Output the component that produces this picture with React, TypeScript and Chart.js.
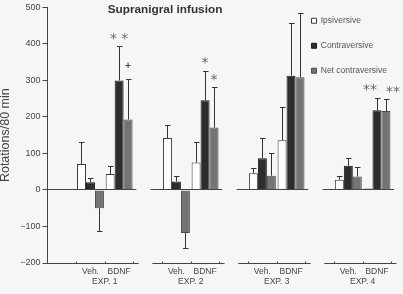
import React, { useEffect, useRef } from 'react';
import { Chart, registerables } from 'chart.js';

Chart.register(...registerables);

// ---------- data ----------
const EXPERIMENTS = ['EXP. 1', 'EXP. 2', 'EXP. 3', 'EXP. 4'];
const CONDITIONS = ['Veh.', 'BDNF'];
const SERIES = ['Ipsiversive', 'Contraversive', 'Net contraversive'];

// order: EXP1 Veh, EXP1 BDNF, EXP2 Veh, EXP2 BDNF, EXP3 Veh, EXP3 BDNF, EXP4 Veh, EXP4 BDNF
const IPSI = [71, 44, 142, 75, 46, 136, 28, 4];
const IPSI_ERR = [61, 22, 36, 57, 14, 91, 9, 0];
const CONTRA = [21, 300, 23, 246, 87, 313, 66, 218];
const CONTRA_ERR = [12, 93, 16, 81, 55, 143, 21, 34];
const NET = [-50, 193, -118, 171, 39, 309, 37, 216];
const NET_ERR = [63, 111, 40, 110, 62, 175, 25, 32];

const Y_MIN = -200;
const Y_MAX = 500;
const Y_STEP = 100;

const TITLE = 'Supranigral infusion';
const Y_TITLE = 'Rotations/80 min';

// significance marks
const MARK_EXP = [0, 0, 1, 1, 3, 3];
const MARK_COND = [1, 1, 1, 1, 1, 1];
const MARK_SERIES = [1, 2, 1, 2, 1, 2];
const MARK_TEXT = ['* *', '+', '*', '*', '**', '**'];

// ---------- helpers ----------
const FONT = '"Liberation Sans", Arial, Helvetica, sans-serif';
const TEXT = '#444444';
const AXIS = '#444444';

const catIndex = (g: number, c: number) => 1 + 3 * g + c;

const CATS: string[] = [''];
EXPERIMENTS.forEach((_, g) => {
  CONDITIONS.forEach((c) => CATS.push(c));
  if (g < EXPERIMENTS.length - 1) CATS.push('');
});

const toCats = (arr: number[]) => {
  const out: (number | null)[] = CATS.map(() => null);
  EXPERIMENTS.forEach((_, g) =>
    CONDITIONS.forEach((__, c) => {
      out[catIndex(g, c)] = arr[g * CONDITIONS.length + c];
    })
  );
  return out;
};

const VALUES = [IPSI, CONTRA, NET];
const ERRORS = [IPSI_ERR, CONTRA_ERR, NET_ERR];
const EXP_POS = EXPERIMENTS.map((_, g) => (catIndex(g, 0) + catIndex(g, 1)) / 2);

// ---------- plugins ----------
const legendPlacer = {
  id: 'legendPlacer',
  afterLayout(chart: any) {
    const lg = chart.legend;
    if (!lg) return;
    const L = 295;
    const T = 0;
    lg.left = L;
    lg.right = L + lg.width;
    lg.top = T;
    lg.bottom = T + lg.height;
  },
};

const groupAxes = {
  id: 'groupAxes',
  afterDatasetsDraw(chart: any) {
    const { ctx, chartArea, scales } = chart;
    const x = scales.x;
    const y = scales.y;
    const y0 = Math.floor(y.getPixelForValue(0)) + 0.5;
    const yb = Math.floor(chartArea.bottom) + 0.5;
    ctx.save();
    ctx.strokeStyle = AXIS;
    ctx.lineWidth = 1;
    EXPERIMENTS.forEach((_, g) => {
      const veh = catIndex(g, 0);
      const bdnf = catIndex(g, 1);
      const zs = g === 0 ? chartArea.left : x.getPixelForValue(veh - 0.9);
      const ze = x.getPixelForValue(bdnf + 0.6);
      ctx.beginPath();
      ctx.moveTo(zs, y0);
      ctx.lineTo(ze, y0);
      ctx.stroke();
      const bs = g === 0 ? chartArea.left : x.getPixelForValue(veh - 0.84);
      const be = x.getPixelForValue(bdnf + 0.68);
      ctx.beginPath();
      ctx.moveTo(bs, yb);
      ctx.lineTo(be, yb);
      ctx.stroke();
      [veh - 0.5, veh + 0.5, bdnf + 0.5].forEach((v) => {
        const px = Math.round(x.getPixelForValue(v)) + 0.5;
        ctx.beginPath();
        ctx.moveTo(px, yb);
        ctx.lineTo(px, yb - 2);
        ctx.stroke();
      });
    });
    ctx.restore();
  },
};

const errorBars = {
  id: 'errorBars',
  afterDatasetsDraw(chart: any) {
    const { ctx, scales } = chart;
    const y = scales.y;
    ctx.save();
    ctx.strokeStyle = '#333333';
    ctx.lineWidth = 1;
    ERRORS.forEach((errs, s) => {
      const meta = chart.getDatasetMeta(s);
      const vals = toCats(VALUES[s]);
      const e = toCats(errs);
      vals.forEach((v, i) => {
        const err = e[i];
        if (v === null || err === null || err <= 0) return;
        const bar = meta.data[i];
        if (!bar) return;
        const px = Math.round(bar.x) + 0.5;
        const dir = v < 0 ? -1 : 1;
        const yv = y.getPixelForValue(v);
        const ye = Math.round(y.getPixelForValue(v + dir * err)) + 0.5;
        ctx.beginPath();
        ctx.moveTo(px, yv);
        ctx.lineTo(px, ye);
        ctx.moveTo(px - 2.5, ye);
        ctx.lineTo(px + 3, ye);
        ctx.stroke();
      });
    });
    ctx.restore();
  },
};

const marks = {
  id: 'marks',
  afterDatasetsDraw(chart: any) {
    const { ctx, scales } = chart;
    const y = scales.y;
    ctx.save();
    MARK_TEXT.forEach((text, k) => {
      const g = MARK_EXP[k];
      const c = MARK_COND[k];
      const s = MARK_SERIES[k];
      const idx = catIndex(g, c);
      const bar = chart.getDatasetMeta(s).data[idx];
      if (!bar) return;
      const v = VALUES[s][g * CONDITIONS.length + c];
      const err = ERRORS[s][g * CONDITIONS.length + c];
      const top = y.getPixelForValue(v + err);
      const isStar = text.indexOf('*') >= 0;
      ctx.font = isStar ? '14px "DejaVu Sans", sans-serif' : 'bold 8.5px "DejaVu Sans", sans-serif';
      ctx.fillStyle = isStar ? '#6a6a6a' : '#444444';
      let align: CanvasTextAlign = 'center';
      const other = MARK_TEXT.findIndex(
        (t, j) => j !== k && MARK_EXP[j] === g && MARK_COND[j] === c
      );
      if (other >= 0 && text.length > 1 && text.indexOf(' ') < 0 && MARK_TEXT[other].length > 1) {
        align = s < MARK_SERIES[other] ? 'right' : 'left';
      }
      ctx.textAlign = align;
      ctx.textBaseline = 'alphabetic';
      const m = ctx.measureText(text);
      const asc = m.actualBoundingBoxAscent;
      const desc = m.actualBoundingBoxDescent;
      const center = top - (isStar ? 10 : 14);
      const base = center - (desc - asc) / 2;
      ctx.fillText(text, bar.x, base);
    });
    ctx.restore();
  },
};

const titleText = {
  id: 'titleText',
  afterDraw(chart: any) {
    const { ctx, chartArea } = chart;
    ctx.save();
    ctx.font = `bold 11.8px ${FONT}`;
    ctx.fillStyle = '#333333';
    ctx.textAlign = 'center';
    ctx.textBaseline = 'middle';
    ctx.fillText(TITLE, chartArea.left + 117.5, 9.5);
    ctx.restore();
  },
};

// ---------- component ----------
export default function App() {
  const ref = useRef<HTMLCanvasElement>(null);

  useEffect(() => {
    const canvas = ref.current;
    if (!canvas) return;
    Chart.defaults.font.family = FONT;
    const colors = [
      { bg: '#ffffff', border: '#3a3a3a' },
      { bg: '#2d2d2d', border: '#1a1a1a' },
      { bg: '#747474', border: '#4a4a4a' },
    ];
    const chart = new Chart(canvas, {
      type: 'bar',
      data: {
        labels: CATS,
        datasets: SERIES.map((label, s) => ({
          label,
          data: toCats(VALUES[s]),
          backgroundColor: colors[s].bg,
          borderColor: colors[s].border,
          borderWidth: 1,
          borderSkipped: 'start',
          barPercentage: 1,
          categoryPercentage: 0.94,
        })),
      },
      options: {
        responsive: false,
        animation: false,
        devicePixelRatio: 1,
        events: [],
        layout: { padding: { left: 0, top: 6, right: 11.7, bottom: 5.5 } },
        plugins: {
          tooltip: { enabled: false },
          title: { display: false },
          legend: {
            display: true,
            position: 'chartArea',
            align: 'start',
            labels: {
              font: { size: 8.5, family: FONT },
              color: '#555555',
              boxWidth: 5,
              boxHeight: 5,
              padding: 16.5,
            },
          },
        },
        scales: {
          x: {
            type: 'category',
            offset: true,
            grid: { display: false, drawTicks: false },
            border: { display: false },
            ticks: {
              font: { size: 8.5, family: FONT },
              color: TEXT,
              padding: 3.5,
              autoSkip: false,
              maxRotation: 0,
              minRotation: 0,
            },
            afterFit: (s: any) => {
              s.height = 13.5;
            },
          },
          x2: {
            type: 'linear',
            position: 'bottom',
            weight: 1,
            min: -0.5,
            max: CATS.length - 0.5,
            offset: false,
            grid: { display: false, drawTicks: false },
            border: { display: false },
            afterBuildTicks: (s: any) => {
              s.ticks = EXP_POS.map((v) => ({ value: v }));
            },
            ticks: {
              font: { size: 8.5, family: FONT },
              color: TEXT,
              padding: 0,
              autoSkip: false,
              maxRotation: 0,
              minRotation: 0,
              callback: (v: any) => {
                const i = EXP_POS.indexOf(Number(v));
                return i >= 0 ? EXPERIMENTS[i] : '';
              },
            },
            afterFit: (s: any) => {
              s.height = 12;
            },
          },
          y: {
            type: 'linear',
            min: Y_MIN,
            max: Y_MAX,
            ticks: {
              stepSize: Y_STEP,
              font: { size: 9, family: FONT },
              color: TEXT,
              padding: 2,
              callback: (v: any) => String(v).replace('-', '\u2212'),
            },
            grid: { drawOnChartArea: false, drawTicks: true, tickLength: 5, color: AXIS },
            border: { display: true, color: AXIS, width: 1 },
            title: {
              display: true,
              text: Y_TITLE,
              font: { size: 12.5, family: FONT },
              color: TEXT,
              padding: { top: -1.5, bottom: 0 },
            },
            afterFit: (s: any) => {
              s.width = 47.5;
            },
          },
        },
      } as any,
      plugins: [legendPlacer, groupAxes, errorBars, marks, titleText],
    });
    return () => chart.destroy();
  }, []);

  return (
    <div
      style={{
        position: 'fixed',
        left: 0,
        top: 0,
        width: 403,
        height: 294,
        background: '#f6f6f6',
      }}
    >
      <canvas ref={ref} width={403} height={294} style={{ display: 'block', width: 403, height: 294 }} />
    </div>
  );
}
